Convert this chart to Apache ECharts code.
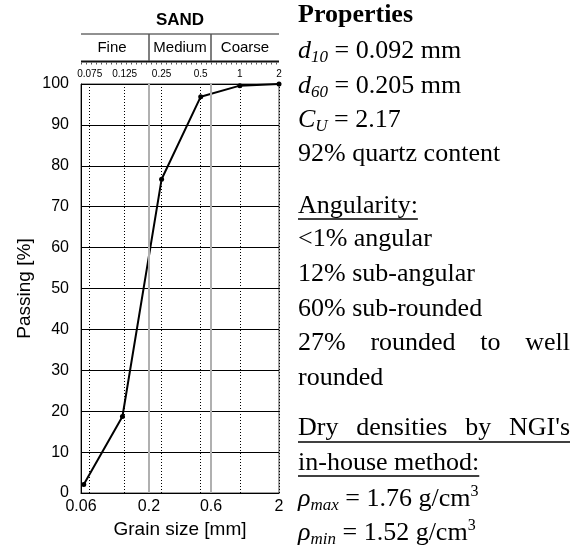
<!DOCTYPE html>
<html><head><meta charset="utf-8">
<script src="https://cdn.jsdelivr.net/npm/echarts@6/dist/echarts.min.js"></script>
<style>html,body{margin:0;padding:0;background:#fff}#c{width:581px;height:546px}</style>
</head><body><div id="c"></div>
<script>
// ---- data ----
const grainSize = [0.063, 0.125, 0.25, 0.5, 1, 2];
const passing = [2.1, 18.7, 76.7, 96.9, 99.6, 100];
const xTickValues = [0.06, 0.2, 0.6, 2];
const sieveSizes = [0.075, 0.125, 0.25, 0.5, 1, 2];
const sieveLabels = ['0.075', '0.125', '0.25', '0.5', '1', '2'];
const classBounds = [0.2, 0.6];
const sandClasses = ['Fine', 'Medium', 'Coarse'];
const classRanges = [[0.06, 0.2], [0.2, 0.6], [0.6, 2]];
const headerTitle = 'SAND';

const SANS = '"Liberation Sans", Arial, sans-serif';
const SERIF = '"Liberation Serif", "Times New Roman", serif';

const chart = echarts.init(document.getElementById('c'), null, {renderer: 'canvas'});

const markData = [];
classBounds.forEach(v => markData.push({
  xAxis: v, lineStyle: {color: '#b0b0b0', width: 2, type: 'solid'}, label: {show: false}
}));
sieveSizes.forEach((v, i) => markData.push({
  xAxis: v, lineStyle: {color: '#000', width: 1, type: [1, 2]},
  label: {show: true, position: 'end', formatter: sieveLabels[i], fontSize: 10, fontFamily: SANS, color: '#000', distance: 5}
}));

const option = {
  animation: false,
  backgroundColor: '#fff',
  grid: {left: 81, right: 302, top: 84, bottom: 53, show: true, borderColor: '#444', borderWidth: 1, backgroundColor: 'transparent'},
  xAxis: {
    type: 'log', logBase: 10, min: 0.06, max: 2,
    axisLine: {show: true, lineStyle: {color: '#000', width: 1}},
    axisTick: {show: false},
    splitLine: {show: false},
    minorTick: {show: false}, minorSplitLine: {show: false},
    axisLabel: {
      customValues: xTickValues, color: '#000', fontSize: 16, fontFamily: SANS, margin: 6,
      formatter: v => String(+Number(v).toPrecision(3))
    },
    name: 'Grain size [mm]', nameLocation: 'middle', nameGap: 26,
    nameTextStyle: {color: '#000', fontSize: 19, fontFamily: SANS}
  },
  yAxis: {
    type: 'value', min: 0, max: 100, interval: 10,
    axisLine: {show: true, lineStyle: {color: '#000', width: 1}},
    axisTick: {show: false},
    splitLine: {show: true, lineStyle: {color: '#000', width: 1}},
    axisLabel: {color: '#000', fontSize: 16, fontFamily: SANS, margin: 12},
    name: 'Passing [%]', nameLocation: 'middle', nameGap: 47,
    nameTextStyle: {color: '#000', fontSize: 19, fontFamily: SANS}
  },
  series: [
    {
      type: 'line', z: 1, data: [], silent: true,
      markLine: {silent: true, symbol: ['none', 'none'], animation: false, data: markData}
    },
    {
      type: 'line', z: 3,
      data: grainSize.map((g, i) => [g, passing[i]]),
      symbol: 'circle', symbolSize: 5,
      lineStyle: {color: '#000', width: 2},
      itemStyle: {color: '#000'}
    }
  ]
};
chart.setOption(option);

// ---- header + text panel (graphics) ----
const px = v => chart.convertToPixel({xAxisIndex: 0}, v);
const x0 = px(0.06), x1 = px(2);
const g = [];
g.push({type: 'text', x: (x0 + x1) / 2, y: 20, style: {text: headerTitle, font: 'bold 17px ' + SANS, fill: '#000', align: 'center', verticalAlign: 'middle'}});
g.push({type: 'line', shape: {x1: x0, y1: 34, x2: x1, y2: 34}, style: {stroke: '#222', lineWidth: 1}});
g.push({type: 'line', shape: {x1: x0, y1: 61.5, x2: x1, y2: 61.5}, style: {stroke: '#111', lineWidth: 2}});
g.push({type: 'line', shape: {x1: x0, y1: 63.5, x2: x1, y2: 63.5}, style: {stroke: '#555', lineWidth: 2, lineDash: [1, 4]}});
classBounds.forEach(v => {
  const xx = Math.round(px(v));
  g.push({type: 'line', shape: {x1: xx, y1: 34, x2: xx, y2: 61}, style: {stroke: '#555', lineWidth: 1.5}});
});
classRanges.forEach((r, i) => {
  g.push({type: 'text', x: (px(r[0]) + px(r[1])) / 2 - (i === 0 ? 3 : 0), y: 48,
    style: {text: sandClasses[i], font: '15px ' + SANS, fill: '#000', align: 'center', verticalAlign: 'middle'}});
});

// text panel
const FS = 26;
const ctx = document.createElement('canvas').getContext('2d');
ctx.font = FS + 'px ' + SERIF;
const tw = s => ctx.measureText(s).width;
const rich = {
  n: {fontFamily: SERIF, fontSize: FS, lineHeight: 30, color: '#000'},
  b: {fontFamily: SERIF, fontSize: FS, lineHeight: 30, color: '#000', fontWeight: 'bold'},
  i: {fontFamily: SERIF, fontSize: FS, lineHeight: 30, color: '#000', fontStyle: 'italic'},
  s: {fontFamily: SERIF, fontSize: 17, lineHeight: 17, color: '#000', fontStyle: 'italic', verticalAlign: 'bottom'},
  p: {fontFamily: SERIF, fontSize: 16, lineHeight: 16, color: '#000', verticalAlign: 'top'}
};
const TX = 298, TR = 570, MID = 8.8;
const line = (baseline, text, x, align) => g.push({type: 'text', x: x === undefined ? TX : x, y: baseline - MID,
  style: {text: text, rich: rich, align: align || 'left', verticalAlign: 'middle', font: FS + 'px ' + SERIF}});
const justify = (baseline, words) => {
  const total = words.reduce((a, w) => a + tw(w), 0);
  const gap = (TR - TX - total) / (words.length - 1);
  let x = TX;
  words.forEach(w => { line(baseline, '{n|' + w + '}', x); x += tw(w) + gap; });
};
const underline = (y, xa, xb) => g.push({type: 'line', shape: {x1: xa, y1: y, x2: xb, y2: y}, style: {stroke: '#000', lineWidth: 1.5}});

line(24, '{b|Properties}');
line(60, '{i|d}{s|10}{n| = 0.092 mm}');
line(95, '{i|d}{s|60}{n| = 0.205 mm}');
line(129, '{i|C}{s|U}{n| = 2.17}');
line(163, '{n|92% quartz content}');
line(215, '{n|Angularity:}');
underline(219, TX, TX + tw('Angularity:'));
line(248, '{n|<1% angular}');
line(283, '{n|12% sub-angular}');
line(318, '{n|60% sub-rounded}');
justify(352, ['27%', 'rounded', 'to', 'well']);
line(387, '{n|rounded}');
justify(437, ['Dry', 'densities', 'by', "NGI's"]);
underline(442, TX, TR);
line(472, '{n|in-house method:}');
underline(476, TX, TX + tw('in-house method:'));
line(508, '{i|ρ}{s|max}{n| = 1.76 g/cm}{p|3}');
line(542, '{i|ρ}{s|min}{n| = 1.52 g/cm}{p|3}');

chart.setOption({graphic: g});
</script>
</body></html>
